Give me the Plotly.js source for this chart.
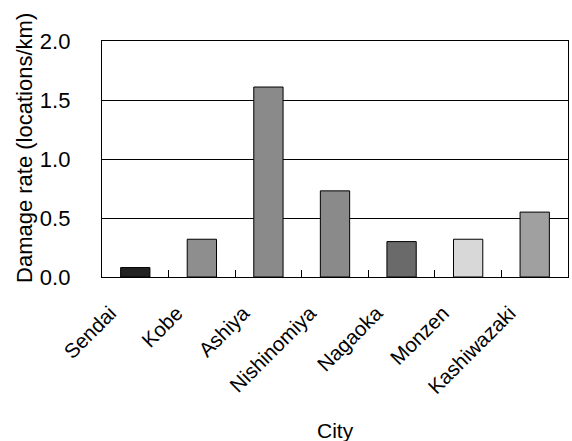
<!DOCTYPE html>
<html><head><meta charset="utf-8">
<script src="https://cdn.plot.ly/plotly-3.0.1.min.js"></script>
<style>body{margin:0;background:#fff}#c{width:572px;height:441px}</style>
</head><body><div id="c"></div>
<script>
const cities = ["Sendai","Kobe","Ashiya","Nishinomiya","Nagaoka","Monzen","Kashiwazaki"];
const damageRate = [0.08,0.32,1.61,0.73,0.30,0.32,0.55];
const barColors = ["#222222","#8e8e8e","#8a8a8a","#8a8a8a","#6a6a6a","#d8d8d8","#a0a0a0"];
const yTicks = [0,0.5,1.0,1.5,2.0];
const yTickLabels = ["0.0","0.5","1.0","1.5","2.0"];
const xTitle = "City";
const yTitle = "Damage rate (locations/km)";

Plotly.newPlot("c",[{
  type:"bar", x:cities, y:damageRate,
  marker:{color:barColors, line:{color:"#000",width:1}},
  width:0.44, hoverinfo:"none"
}],{
  width:572,height:441,
  margin:{l:102,r:4,t:41,b:164},
  paper_bgcolor:"#fff",plot_bgcolor:"#fff",
  font:{family:"Liberation Sans, Arial, sans-serif",color:"#000",size:20},
  showlegend:false,
  xaxis:{
    tickangle:-45, ticks:"inside", tickson:"boundaries", ticklen:7, tickcolor:"#000", tickwidth:1,
    showline:true, linecolor:"#000", linewidth:1.2, mirror:true,
    tickfont:{size:20.5}, ticklabelstandoff:15, ticklabelshift:-25
  },
  yaxis:{
    range:[0,2.0], tickvals:yTicks, ticktext:yTickLabels, ticks:"",
    showgrid:true, gridcolor:"#000", gridwidth:1,
    showline:true, linecolor:"#000", linewidth:1.2, mirror:true, zeroline:false,
    tickfont:{size:22}, ticklabelstandoff:26
  },
  annotations:[
    {text:xTitle, xref:"paper", yref:"paper", x:0.5, y:-0.6525, xanchor:"center", yanchor:"middle", showarrow:false, font:{size:21}},
    {text:yTitle, xref:"paper", yref:"paper", x:-0.1674, y:0.5466, xanchor:"center", yanchor:"middle", textangle:-90, showarrow:false, font:{size:22}}
  ]
},{staticPlot:true});
</script></body></html>
